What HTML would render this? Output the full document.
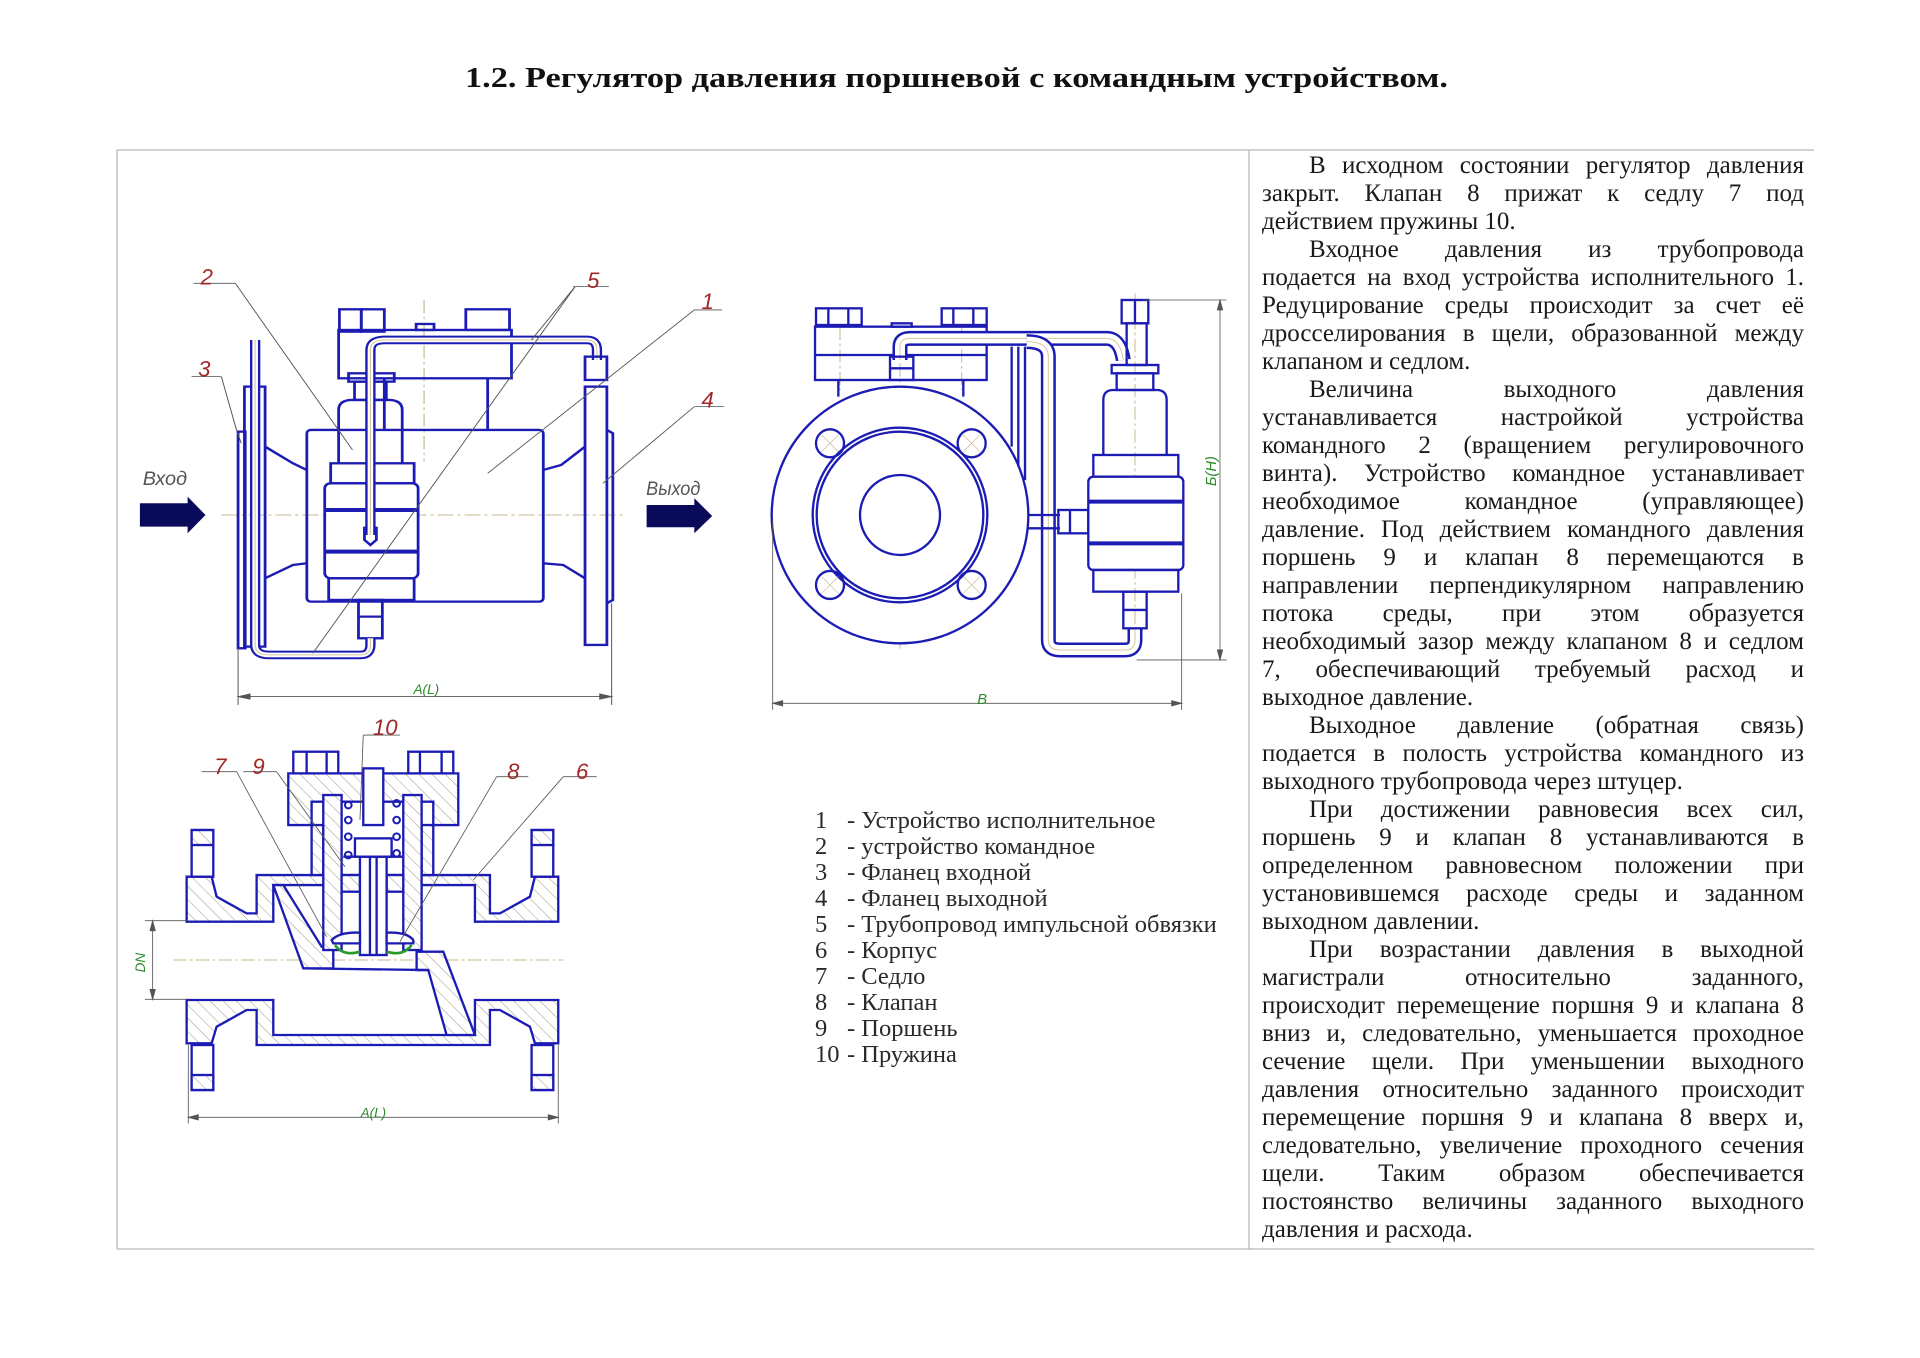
<!DOCTYPE html>
<html><head><meta charset="utf-8"><style>
html,body{margin:0;padding:0;background:#fff;}
body{width:1920px;height:1358px;position:relative;overflow:hidden;font-family:"Liberation Serif","DejaVu Serif",serif;}
svg{position:absolute;left:0;top:0;}
#col{position:absolute;left:1262px;top:152px;width:542px;color:#1a1a1a;font-size:25px;}
#col div{height:28px;line-height:28px;white-space:nowrap;text-align:justify;text-align-last:justify;overflow:visible;}
#col div.l{text-align:left;text-align-last:left;}
#col div.i{padding-left:47px;}
#leg{position:absolute;left:815px;top:808px;color:#2a2a2a;font-size:24.5px;}
#leg div{height:26px;line-height:26px;white-space:nowrap;}
#leg span{display:inline-block;width:32px;}
</style></head><body>
<svg width="1920" height="1358" viewBox="0 0 1920 1358" xmlns="http://www.w3.org/2000/svg">
<defs>
<pattern id="h" patternUnits="userSpaceOnUse" width="28" height="28" patternTransform="rotate(-45)">
<rect width="28" height="28" fill="#fff"/><line x1="0" y1="0" x2="0" y2="28" stroke="#a09880" stroke-width="3"/></pattern>
</defs>
<text x="465" y="87" textLength="983" lengthAdjust="spacingAndGlyphs" font-size="29" font-weight="bold" fill="#111" font-family="Liberation Serif,serif">1.2. Регулятор давления поршневой с командным устройством.</text>
<g stroke="#b8b8b8" stroke-width="1.3">
<line x1="117" y1="150" x2="1814" y2="150"/><line x1="117" y1="150" x2="117" y2="1249"/>
<line x1="117" y1="1249" x2="1814" y2="1249"/><line x1="1249" y1="150" x2="1249" y2="1249"/>
</g>
<g transform="scale(1.2308)">
<!-- Drawing 1 -->
<g transform="translate(105.6,203.1) scale(0.3229,0.2708)" fill="none" stroke="#1c1cb4" stroke-width="7">
<line x1="230" y1="795" x2="1240" y2="795" stroke="#c8b890" stroke-width="3" stroke-dasharray="40,10,8,10"/>
<line x1="740" y1="150" x2="740" y2="635" stroke="#c8b890" stroke-width="3" stroke-dasharray="40,10,8,10"/>
<rect x="272" y="545" width="18" height="650"/>
<rect x="288" y="410" width="52" height="780"/>
<path d="M340 590 L410 640 L445 660 M340 985 L410 945 L445 940"/>
<rect x="445" y="540" width="595" height="515" rx="10"/>
<path d="M1040 660 L1085 645 L1145 590 M1040 940 L1090 945 L1145 985"/>
<rect x="1145" y="410" width="55" height="775"/>
<path d="M1200 540 L1215 550 L1215 1050 L1200 1060"/>
<rect x="525" y="240" width="435" height="145"/>
<path d="M640 385 L640 540 M900 385 L900 540"/>
<rect x="527" y="178" width="55" height="67"/><rect x="582" y="178" width="58" height="67"/>
<rect x="845" y="178" width="110" height="62"/><rect x="720" y="222" width="45" height="18"/>
<rect x="550" y="370" width="115" height="25"/>
<rect x="565" y="395" width="80" height="55"/>
<path d="M525 640 L525 480 Q525 450 560 450 L650 450 Q685 450 685 480 L685 640"/>
<rect x="505" y="640" width="210" height="60"/>
<rect x="490" y="700" width="235" height="285" rx="15" fill="#fff"/>
<line x1="490" y1="780" x2="725" y2="780" stroke-width="12"/>
<line x1="490" y1="905" x2="725" y2="905" stroke-width="12"/>
<rect x="500" y="985" width="215" height="65"/>
<rect x="575" y="1050" width="60" height="115"/>
<line x1="575" y1="1100" x2="635" y2="1100"/>
<path d="M605 855 L605 300 Q605 270 640 270 L1150 270 Q1175 270 1175 300 L1175 330" stroke-width="26"/>
<path d="M605 855 L605 300 Q605 270 640 270 L1150 270 Q1175 270 1175 300 L1175 330" stroke="#fff" stroke-width="14"/>
<path d="M605 855 L605 300 Q605 270 640 270 L1150 270 Q1175 270 1175 300 L1175 330" stroke="#d8c8a0" stroke-width="3"/>
<path d="M590 830 L590 870 L605 885 L620 870 L620 830"/>
<rect x="1145" y="320" width="55" height="70"/>
<path d="M315 270 L315 1185 Q315 1215 350 1215 L580 1215 Q605 1215 605 1185 L605 1165" stroke-width="26"/>
<path d="M315 270 L315 1185 Q315 1215 350 1215 L580 1215 Q605 1215 605 1185 L605 1165" stroke="#fff" stroke-width="14"/>
<path d="M315 270 L315 1185 Q315 1215 350 1215 L580 1215 Q605 1215 605 1185 L605 1165" stroke="#d8c8a0" stroke-width="3"/>
<path d="M25 760 L145 760 L145 740 L190 795 L145 850 L145 830 L25 830Z" fill="#0a0a5a" stroke="none"/>
<path d="M1300 765 L1420 765 L1420 745 L1465 798 L1420 850 L1420 832 L1300 832Z" fill="#0a0a5a" stroke="none"/>
<g stroke="#555" stroke-width="2.5">
<line x1="272" y1="1195" x2="272" y2="1365"/><line x1="1212" y1="1060" x2="1212" y2="1365"/>
<line x1="272" y1="1340" x2="1212" y2="1340"/>
<path d="M272 1340 l30 -8 l0 16z M1212 1340 l-30 -8 l0 16z" fill="#555"/>
<line x1="160" y1="100" x2="265" y2="100"/><line x1="265" y1="100" x2="560" y2="600"/>
<line x1="1115" y1="110" x2="1205" y2="110"/><line x1="1120" y1="110" x2="1010" y2="270"/><line x1="1120" y1="110" x2="460" y2="1210"/>
<line x1="1420" y1="180" x2="1490" y2="180"/><line x1="1420" y1="180" x2="900" y2="670"/>
<line x1="155" y1="380" x2="230" y2="380"/><path d="M230 380 L268 540 L280 580" fill="none"/>
<line x1="1420" y1="470" x2="1495" y2="470"/><line x1="1420" y1="470" x2="1190" y2="700"/>
</g>
</g>
<g font-family="Liberation Sans,sans-serif" font-style="italic">
<g fill="#a02828" font-size="18"><text x="163" y="231">2</text><text x="477" y="234">5</text><text x="570" y="251">1</text><text x="161" y="306">3</text><text x="570" y="331">4</text></g>
<g fill="#555" font-size="16"><text x="116" y="394" textLength="36" lengthAdjust="spacingAndGlyphs">Вход</text><text x="525" y="402" textLength="44" lengthAdjust="spacingAndGlyphs">Выход</text></g>
<text x="336" y="564" fill="#2a8a2a" font-size="11">A(L)</text>
</g>
<!-- Drawing 2 -->
<g transform="translate(617.5,227.5) scale(0.2708)" fill="none" stroke="#1c1cb4" stroke-width="7">
<g stroke="#c8b890" stroke-width="3" stroke-dasharray="40,10,8,10">
<line x1="30" y1="705" x2="830" y2="705"/><line x1="420" y1="250" x2="420" y2="1110"/><line x1="240" y1="140" x2="240" y2="330"/><line x1="605" y1="140" x2="605" y2="330"/>
<circle cx="420" cy="705" r="310"/><line x1="1125" y1="40" x2="1125" y2="1080"/>
</g>
<rect x="165" y="140" width="515" height="160"/><line x1="165" y1="225" x2="680" y2="225"/>
<rect x="168" y="85" width="137" height="50"/><line x1="205" y1="85" x2="205" y2="135"/><line x1="265" y1="85" x2="265" y2="135"/>
<rect x="545" y="85" width="135" height="50"/><line x1="580" y1="85" x2="580" y2="135"/><line x1="640" y1="85" x2="640" y2="135"/>
<rect x="395" y="130" width="60" height="10"/>
<path d="M235 300 L235 350 M610 300 L610 350"/>
<circle cx="420" cy="705" r="385" fill="#fff"/>
<circle cx="420" cy="705" r="262"/><circle cx="420" cy="705" r="250"/>
<circle cx="420" cy="705" r="120"/>
<g><circle cx="210" cy="490" r="42"/><circle cx="635" cy="490" r="42"/><circle cx="210" cy="915" r="42"/><circle cx="635" cy="915" r="42"/></g>
<g stroke="#c8b890" stroke-width="2"><path d="M185 465 l50 50 M235 465 l-50 50 M610 465 l50 50 M660 465 l-50 50 M185 890 l50 50 M235 890 l-50 50 M610 890 l50 50 M660 890 l-50 50"/></g>
<line x1="755" y1="200" x2="755" y2="500"/><line x1="775" y1="200" x2="775" y2="560"/><line x1="795" y1="200" x2="795" y2="600"/>
<path d="M420 240 L420 200 Q420 175 450 175 L1040 175 Q1080 175 1090 240" stroke-width="45"/>
<path d="M420 240 L420 200 Q420 175 450 175 L1040 175 Q1080 175 1090 240" stroke="#fff" stroke-width="30"/>
<path d="M420 240 L420 200 Q420 175 450 175 L1040 175 Q1080 175 1090 240" stroke="#d8c8a0" stroke-width="3"/>
<path d="M800 185 Q865 185 865 230 L865 1080 Q865 1110 900 1110 L1095 1110 Q1125 1110 1125 1080 L1125 1045" stroke-width="45"/>
<path d="M800 185 Q865 185 865 230 L865 1080 Q865 1110 900 1110 L1095 1110 Q1125 1110 1125 1080 L1125 1045" stroke="#fff" stroke-width="30"/>
<path d="M800 185 Q865 185 865 230 L865 1080 Q865 1110 900 1110 L1095 1110 Q1125 1110 1125 1080 L1125 1045" stroke="#d8c8a0" stroke-width="3"/>
<path d="M805 705 L900 705 M805 745 L900 745"/>
<rect x="390" y="230" width="70" height="70"/><line x1="390" y1="265" x2="460" y2="265"/>
<rect x="895" y="690" width="90" height="70"/><line x1="930" y1="690" x2="930" y2="760"/>
<rect x="1085" y="60" width="80" height="70"/><line x1="1125" y1="60" x2="1125" y2="130"/>
<rect x="1100" y="130" width="60" height="125"/>
<rect x="1055" y="255" width="140" height="25"/>
<rect x="1070" y="280" width="110" height="50"/>
<path d="M1030 525 L1030 360 Q1030 330 1060 330 L1190 330 Q1220 330 1220 360 L1220 525"/>
<rect x="1000" y="525" width="255" height="65"/>
<rect x="985" y="590" width="285" height="280" rx="15" fill="#fff"/>
<line x1="985" y1="665" x2="1270" y2="665" stroke-width="12"/><line x1="985" y1="790" x2="1270" y2="790" stroke-width="12"/>
<rect x="1000" y="870" width="255" height="65"/>
<rect x="1090" y="935" width="70" height="110"/><line x1="1090" y1="990" x2="1160" y2="990"/>
<g stroke="#555" stroke-width="2.5">
<line x1="1150" y1="60" x2="1400" y2="60"/><line x1="1130" y1="1140" x2="1400" y2="1140"/>
<line x1="1380" y1="60" x2="1380" y2="1140"/><path d="M1380 60 l-8 30 l16 0z M1380 1140 l-8 -30 l16 0z" fill="#555"/>
<line x1="38" y1="720" x2="38" y2="1290"/><line x1="1265" y1="940" x2="1265" y2="1290"/>
<line x1="38" y1="1270" x2="1265" y2="1270"/><path d="M38 1270 l30 -8 l0 16z M1265 1270 l-30 -8 l0 16z" fill="#555"/>
</g>
</g>
<g font-family="Liberation Sans,sans-serif" font-style="italic" fill="#2a8a2a" font-size="12">
<text x="794" y="572">B</text>
<text transform="translate(988,395) rotate(-90)">Б(Н)</text>
</g>
<!-- Drawing 3 -->
<g transform="translate(105.6,576.9) scale(0.2708)" stroke="#1c1cb4" stroke-width="7">
<line x1="130" y1="750" x2="1300" y2="750" stroke="#c8b890" stroke-width="3" stroke-dasharray="40,10,8,10"/>
<path fill="url(#h)" d="M170 500 L245 500 L260 560 L350 610 L380 610 L380 495 L1080 495 L1080 610 L1110 610 L1200 560 L1215 500 L1285 500 L1285 635 L1035 635 L1035 525 L430 525 L430 635 L170 635Z"/>
<path fill="url(#h)" d="M170 870 L430 870 L430 975 L1035 975 L1035 870 L1285 870 L1285 1000 L1215 1000 L1200 950 L1110 900 L1080 900 L1080 1005 L380 1005 L380 900 L350 900 L260 950 L245 1000 L170 1000Z"/>
<rect x="185" y="360" width="65" height="140" fill="#fff"/><rect x="185" y="360" width="65" height="45" fill="url(#h)"/>
<rect x="1205" y="360" width="65" height="140" fill="#fff"/><rect x="1205" y="360" width="65" height="45" fill="url(#h)"/>
<rect x="185" y="1005" width="65" height="135" fill="#fff"/><rect x="185" y="1095" width="65" height="45" fill="url(#h)"/>
<rect x="1205" y="1005" width="65" height="135" fill="#fff"/><rect x="1205" y="1095" width="65" height="45" fill="url(#h)"/>
<path fill="url(#h)" d="M430 525 L460 525 L575 710 L610 710 L610 775 L520 775Z"/>
<path fill="url(#h)" d="M860 725 L940 725 L1035 975 L950 975 L895 780 L860 780Z"/>
<path fill="none" d="M520 775 L895 780"/>
<path fill="url(#h)" d="M475 190 L985 190 L985 345 L910 345 L910 275 L545 275 L545 345 L475 345Z"/>
<rect x="545" y="345" width="35" height="150" fill="url(#h)"/><rect x="875" y="345" width="35" height="150" fill="url(#h)"/>
<rect x="490" y="125" width="135" height="65" fill="#fff"/><line x1="530" y1="125" x2="530" y2="190"/><line x1="590" y1="125" x2="590" y2="190"/>
<rect x="835" y="125" width="135" height="65" fill="#fff"/><line x1="870" y1="125" x2="870" y2="190"/><line x1="935" y1="125" x2="935" y2="190"/>
<rect x="580" y="255" width="55" height="465" fill="url(#h)"/><rect x="820" y="255" width="55" height="465" fill="url(#h)"/>
<rect x="635" y="495" width="55" height="50" fill="url(#h)"/><rect x="770" y="495" width="50" height="50" fill="url(#h)"/>
<rect x="700" y="175" width="60" height="170" fill="#fff"/>
<rect x="675" y="385" width="110" height="55" fill="#fff"/>
<rect x="690" y="440" width="80" height="295" fill="#fff"/><line x1="720" y1="440" x2="720" y2="735"/><line x1="740" y1="440" x2="740" y2="735"/>
<line x1="640" y1="440" x2="820" y2="440"/>
<g fill="none" stroke-width="6"><circle cx="655" cy="285" r="10"/><circle cx="655" cy="330" r="10"/><circle cx="655" cy="380" r="10"/><circle cx="655" cy="435" r="10"/>
<circle cx="800" cy="280" r="10"/><circle cx="800" cy="330" r="10"/><circle cx="800" cy="380" r="10"/><circle cx="800" cy="430" r="10"/></g>
<path d="M605 690 Q630 665 690 668 L690 700 L610 700Z M850 690 Q830 665 770 668 L770 700 L850 700Z" fill="#fff"/>
<path d="M615 705 Q640 740 690 725 M845 705 Q820 740 770 725" fill="none" stroke="#2a9a2a" stroke-width="8"/>
<g stroke="#555" stroke-width="2.5" fill="none">
<line x1="45" y1="632" x2="170" y2="632"/><line x1="45" y1="868" x2="170" y2="868"/>
<line x1="68" y1="632" x2="68" y2="868"/><path d="M68 632 l-8 30 l16 0z M68 868 l-8 -30 l16 0z" fill="#555"/>
<line x1="175" y1="1005" x2="175" y2="1240"/><line x1="1285" y1="1005" x2="1285" y2="1240"/>
<line x1="175" y1="1222" x2="1285" y2="1222"/><path d="M175 1222 l30 -8 l0 16z M1285 1222 l-30 -8 l0 16z" fill="#555"/>
<line x1="700" y1="75" x2="810" y2="75"/><line x1="700" y1="75" x2="690" y2="330"/>
<line x1="215" y1="185" x2="320" y2="185"/><line x1="320" y1="185" x2="590" y2="680"/>
<line x1="340" y1="185" x2="440" y2="185"/><line x1="440" y1="185" x2="645" y2="470"/>
<line x1="1100" y1="200" x2="1195" y2="200"/><line x1="1100" y1="200" x2="810" y2="695"/>
<line x1="1300" y1="200" x2="1400" y2="200"/><line x1="1300" y1="200" x2="1030" y2="510"/>
</g>
</g>
<g font-family="Liberation Sans,sans-serif" font-style="italic">
<g fill="#a02828" font-size="18"><text x="303" y="597">10</text><text x="174" y="629">7</text><text x="205" y="629">9</text><text x="412" y="633">8</text><text x="468" y="633">6</text></g>
<text x="293" y="908" fill="#2a8a2a" font-size="11">A(L)</text>
<text transform="translate(118,790) rotate(-90)" fill="#2a8a2a" font-size="11">DN</text>
</g>
</g>
</svg>
<div id="leg">
<div><span>1</span>- Устройство исполнительное</div>
<div><span>2</span>- устройство командное</div>
<div><span>3</span>- Фланец входной</div>
<div><span>4</span>- Фланец выходной</div>
<div><span>5</span>- Трубопровод импульсной обвязки</div>
<div><span>6</span>- Корпус</div>
<div><span>7</span>- Седло</div>
<div><span>8</span>- Клапан</div>
<div><span>9</span>- Поршень</div>
<div><span>10</span>- Пружина</div>
</div>
<div id="col">
<div class="i">В исходном состоянии регулятор давления</div>
<div>закрыт. Клапан 8  прижат к седлу 7 под</div>
<div class="l">действием пружины 10.</div>
<div class="i">Входное давления из трубопровода</div>
<div>подается на вход устройства исполнительного 1.</div>
<div>Редуцирование среды происходит за счет её</div>
<div>дросселирования в щели, образованной между</div>
<div class="l">клапаном и  седлом.</div>
<div class="i">Величина выходного давления</div>
<div>устанавливается настройкой устройства</div>
<div>командного 2 (вращением регулировочного</div>
<div>винта). Устройство командное устанавливает</div>
<div>необходимое командное (управляющее)</div>
<div>давление. Под действием командного давления</div>
<div>поршень 9 и клапан 8 перемещаются в</div>
<div>направлении перпендикулярном направлению</div>
<div>потока среды, при этом образуется</div>
<div>необходимый зазор между клапаном 8 и седлом</div>
<div>7, обеспечивающий требуемый расход и</div>
<div class="l">выходное давление.</div>
<div class="i">Выходное давление (обратная связь)</div>
<div>подается в полость  устройства командного из</div>
<div class="l">выходного трубопровода через штуцер.</div>
<div class="i">При достижении равновесия всех сил,</div>
<div>поршень 9 и клапан 8 устанавливаются в</div>
<div>определенном равновесном положении при</div>
<div>установившемся расходе среды и заданном</div>
<div class="l">выходном давлении.</div>
<div class="i">При возрастании давления в выходной</div>
<div>магистрали относительно заданного,</div>
<div>происходит перемещение поршня 9 и клапана 8</div>
<div>вниз и, следовательно, уменьшается проходное</div>
<div>сечение щели. При уменьшении выходного</div>
<div>давления относительно заданного происходит</div>
<div>перемещение поршня 9 и клапана 8 вверх и,</div>
<div>следовательно, увеличение проходного сечения</div>
<div>щели. Таким образом обеспечивается</div>
<div>постоянство величины заданного выходного</div>
<div class="l">давления и расхода.</div>
</div>
</body></html>
